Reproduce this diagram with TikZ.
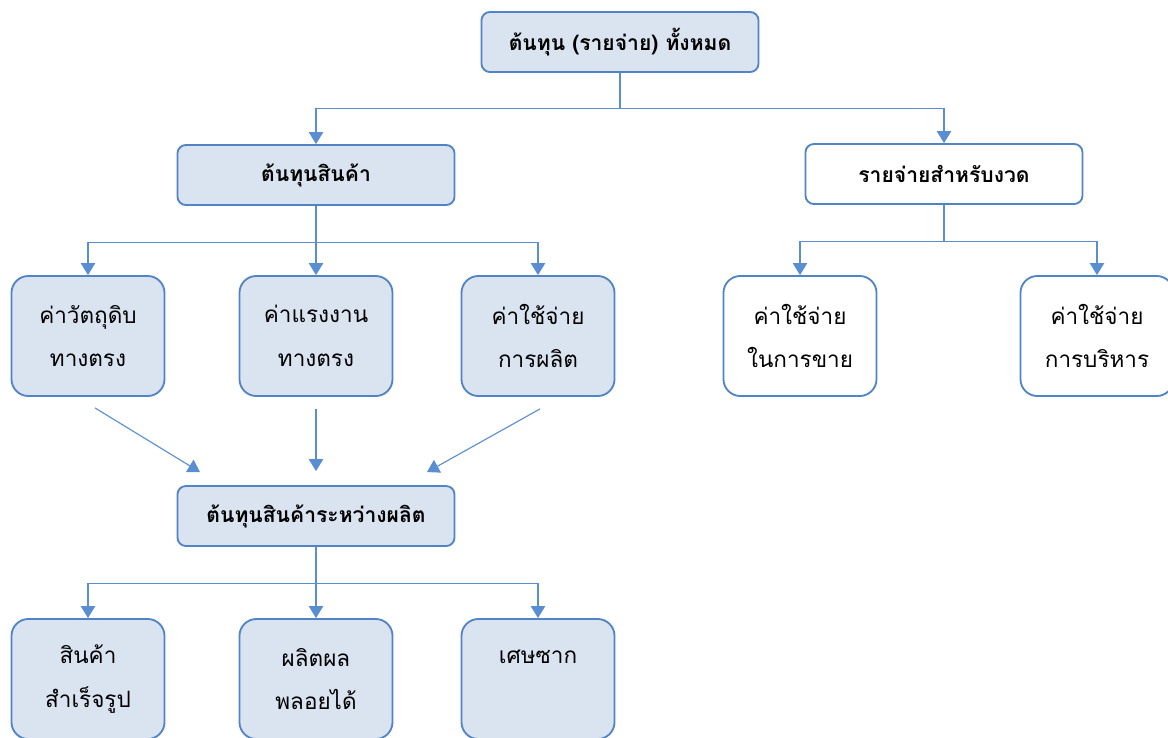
\documentclass[tikz,border=0pt]{standalone}
\usepackage{fontspec}
\newfontfamily\thaifont[Script=Thai]{Loma}
\usepackage{tikz}
\usetikzlibrary{arrows.meta, positioning}
\definecolor{boxfill}{HTML}{DAE3F0}
\definecolor{boxline}{HTML}{5184C4}
\definecolor{linkline}{HTML}{5A8ED3}

\begin{document}
\begin{tikzpicture}[
  x=0.025cm, y=-0.025cm,
  every node/.style={font=\thaifont\fontsize{16}{31}\selectfont},
  headbox/.style={draw=boxline, line width=1.3pt, rounded corners=6pt, fill=boxfill,
                  minimum width=6.925cm, minimum height=1.5cm, align=center,
                  font=\thaifont\bfseries\fontsize{15}{31}\selectfont},
  itembox/.style={draw=boxline, line width=1.3pt, rounded corners=12pt, fill=boxfill,
                  minimum width=3.825cm, minimum height=3cm, align=center},
  arrow/.style={-{Triangle[length=3mm, width=3.6mm]}, linkline, line width=0.8pt},
]
\useasboundingbox (0,0) rectangle (1168,737);

% Top level
\node[headbox] (total) at (620, 42) {ต้นทุน (รายจ่าย) ทั้งหมด};

% Second level
\node[headbox] (goods) at (316, 175) {ต้นทุนสินค้า};
\node[headbox, fill=white] (period) at (944, 174) {รายจ่ายสำหรับงวด};

\draw[arrow] (total.south) -- ++(0, 36) -| (goods.north);
\draw[arrow] (total.south) -- ++(0, 36) -| (period.north);

% Cost elements
\node[itembox] (rawmat) at (88, 336) {ค่าวัตถุดิบ\\ทางตรง};
\node[itembox] (labour) at (316, 336) {ค่าแรงงาน\\ทางตรง};
\node[itembox] (overhead) at (538, 336) {ค่าใช้จ่าย\\การผลิต};

\draw[arrow] (goods.south) -- ++(0, 37) -| (rawmat.north);
\draw[arrow] (goods) -- (labour);
\draw[arrow] (goods.south) -- ++(0, 37) -| (overhead.north);

% Period expenses
\node[itembox, fill=white] (selling) at (800, 336) {ค่าใช้จ่าย\\ในการขาย};
\node[itembox, fill=white] (admin) at (1097, 336) {ค่าใช้จ่าย\\การบริหาร};

\draw[arrow] (period.south) -- ++(0, 37) -| (selling.north);
\draw[arrow] (period.south) -- ++(0, 37) -| (admin.north);

% Work in process
\node[headbox] (wip) at (316, 516) {ต้นทุนสินค้าระหว่างผลิต};

\draw[arrow] ([shift={(7, 11)}]rawmat.south) -- ([shift={(-116, -13)}]wip.north);
\draw[arrow] ([shift={(0, 12)}]labour.south) -- ([shift={(0, -14)}]wip.north);
\draw[arrow] ([shift={(2, 12)}]overhead.south) -- ([shift={(111, -13)}]wip.north);

% Outputs
\node[itembox] (finished) at (88, 679) {สินค้า\\สำเร็จรูป};
\node[itembox] (byprod) at (316, 679) {ผลิตผล\\พลอยได้};
\node[itembox] (scrap) at (538, 679) {เศษซาก\\\vphantom{ทางตรง}};

\draw[arrow] (wip.south) -- ++(0, 37) -| (finished.north);
\draw[arrow] (wip) -- (byprod);
\draw[arrow] (wip.south) -- ++(0, 37) -| (scrap.north);

\end{tikzpicture}
\end{document}
